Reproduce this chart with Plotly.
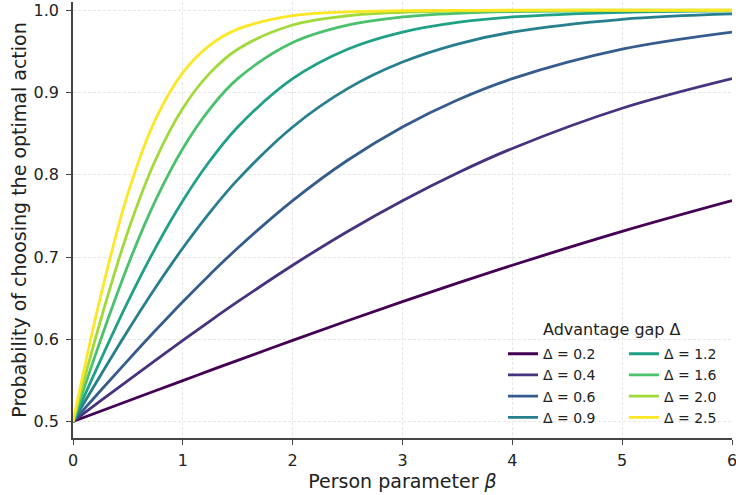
import plotly.graph_objects as go

beta = [0, 0.25, 0.5, 0.75, 1, 1.25, 1.5, 2, 2.5, 3, 3.5, 4, 5, 6]

deltas = ["0.2", "0.4", "0.6", "0.9", "1.2", "1.6", "2.0", "2.5"]
colors = ["#440154", "#46327e", "#365c8d", "#277f8e", "#1fa187", "#4ac16d", "#a0da39", "#fde725"]

p_02 = [0.5, 0.5125, 0.525, 0.5374, 0.5498, 0.5622, 0.5744, 0.5987, 0.6225, 0.6457, 0.6682, 0.6900, 0.7311, 0.7685]
p_04 = [0.5, 0.525, 0.5498, 0.5744, 0.5987, 0.6225, 0.6457, 0.6900, 0.7311, 0.7685, 0.8022, 0.8320, 0.8808, 0.9168]
p_06 = [0.5, 0.5374, 0.5744, 0.6106, 0.6457, 0.6792, 0.7109, 0.7685, 0.8176, 0.8581, 0.8909, 0.9168, 0.9526, 0.9734]
p_09 = [0.5, 0.5560, 0.6106, 0.6626, 0.7109, 0.7549, 0.7941, 0.8581, 0.9047, 0.9370, 0.9589, 0.9734, 0.9890, 0.9955]
p_12 = [0.5, 0.5744, 0.6457, 0.7109, 0.7685, 0.8176, 0.8581, 0.9168, 0.9526, 0.9734, 0.9852, 0.9918, 0.9975, 0.9993]
p_16 = [0.5, 0.5987, 0.6900, 0.7685, 0.8320, 0.8808, 0.9168, 0.9608, 0.9820, 0.9918, 0.9963, 0.9983, 0.9997, 0.9999]
p_20 = [0.5, 0.6225, 0.7311, 0.8176, 0.8808, 0.9241, 0.9526, 0.9820, 0.9933, 0.9975, 0.9991, 0.9997, 1.0, 1.0]
p_25 = [0.5, 0.6514, 0.7773, 0.8670, 0.9241, 0.9579, 0.9770, 0.9933, 0.9981, 0.9994, 0.9998, 1.0, 1.0, 1.0]

series = [p_02, p_04, p_06, p_09, p_12, p_16, p_20, p_25]

fig = go.Figure()
for i, (d, c, ys) in enumerate(zip(deltas, colors, series)):
    fig.add_trace(go.Scatter(
        x=beta, y=ys, mode="lines", name=f"Δ = {d}",
        line=dict(color=c, width=2.8, shape="spline", smoothing=1.0),
        legend="legend" if i < 4 else "legend2",
        legendgroup=f"g{i}",
    ))

axis_common = dict(
    showgrid=True, gridcolor="#e6e6e6", griddash="3px,2px", gridwidth=0.8,
    showline=True, linecolor="#444", linewidth=1.5,
    ticks="outside", ticklen=5, tickwidth=1.3, tickcolor="#444",
    zeroline=False, automargin=False, ticklabeloverflow="allow",
    tickfont=dict(family="DejaVu Sans", size=16, color="#222"),
)

fig.update_layout(
    width=736, height=495,
    margin=dict(l=73, r=4, t=2, b=57),
    paper_bgcolor="white", plot_bgcolor="white",
    font=dict(family="DejaVu Sans", size=14, color="#222"),
    xaxis=dict(range=[0, 6], tickvals=[0, 1, 2, 3, 4, 5, 6], ticklabelstandoff=2,
               title=dict(text="Person parameter <i>β</i>", font=dict(size=19), standoff=6),
               **axis_common),
    yaxis=dict(range=[0.48, 1.01], tickvals=[0.5, 0.6, 0.7, 0.8, 0.9, 1.0], tickformat=".1f",
               ticklabelstandoff=4,
               title=dict(text="Probability of choosing the optimal action", font=dict(size=19), standoff=2),
               **axis_common),
    legend=dict(x=0.6525, y=0.229, xanchor="left", yanchor="top", bgcolor="rgba(0,0,0,0)",
                font=dict(size=14), tracegroupgap=0),
    legend2=dict(x=0.836, y=0.229, xanchor="left", yanchor="top", bgcolor="rgba(0,0,0,0)",
                 font=dict(size=14), tracegroupgap=0),
    annotations=[dict(text="Advantage gap Δ", x=(612 - 73) / 659, y=(438 - 330) / 436,
                      xref="paper", yref="paper", showarrow=False,
                      xanchor="center", yanchor="middle", font=dict(size=16, color="#222"))],
)

fig.write_html("out.html", config={"displayModeBar": False},
               post_script="document.body.style.margin='0';")
